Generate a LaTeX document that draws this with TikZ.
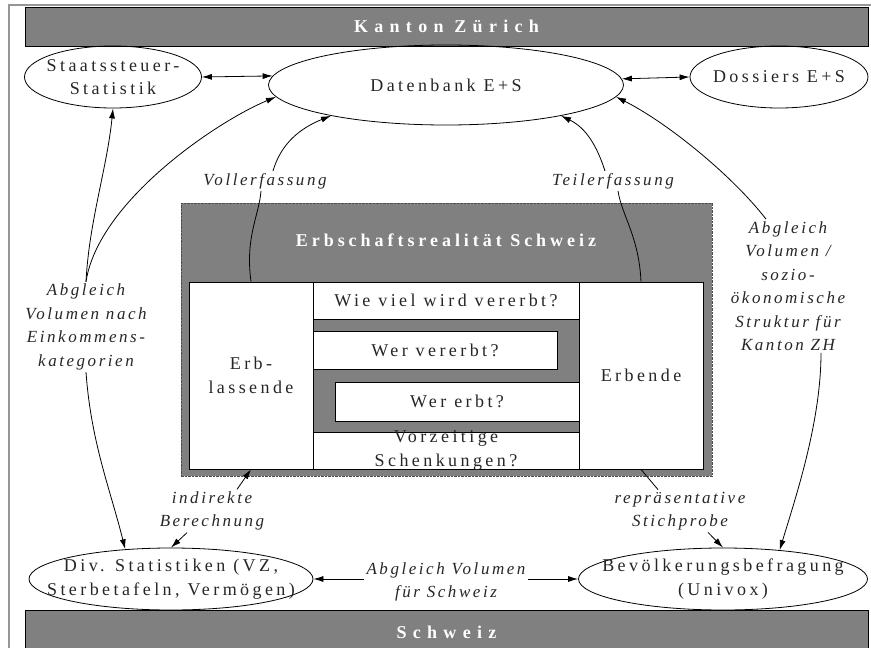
\documentclass[tikz,border=0pt]{standalone}
\usepackage{fontspec}
\setmainfont{Liberation Serif}
\newfontfamily\plainspaced[LetterSpace=19]{Liberation Serif}
\newfontfamily\labelspaced[LetterSpace=15]{Liberation Serif}
\newfontfamily\titlespaced[LetterSpace=22]{Liberation Serif}
\newfontfamily\barspaced[LetterSpace=35]{Liberation Serif}
\usetikzlibrary{shapes,arrows.meta,positioning,calc}

\definecolor{boxgray}{RGB}{128,128,128}
\definecolor{framegray}{RGB}{150,150,150}

\begin{document}
\begin{tikzpicture}[x=1pt, y=-1pt,
    txt/.style={font=\plainspaced\fontsize{18}{23.5}\selectfont, text=black!85, align=center},
    oval/.style={ellipse, draw, line width=0.8pt, inner sep=0pt},
    ovaltext/.style={txt, inner sep=0pt},
    bar/.style={rectangle, draw, fill=boxgray, line width=0.6pt, text=white, font=\barspaced\bfseries\fontsize{18}{22}\selectfont},
    cell/.style={rectangle, draw, fill=white, line width=0.7pt, inner sep=0pt, txt},
    elabel/.style={font=\labelspaced\itshape\fontsize{17}{23.5}\selectfont, text=black!85, align=center, inner sep=2pt},
    link/.style={line width=0.8pt},
    arr/.style={link, -{Latex[length=10pt,width=6pt]}},
    both/.style={link, {Latex[length=10pt,width=6pt]}-{Latex[length=10pt,width=6pt]}}]
    \useasboundingbox (0,0) rectangle (871,648);
    \draw[framegray, line width=1.5pt] (9,660) -- (9,5) -- (880,5);

    % bars
    \node[bar, minimum width=843pt, minimum height=39pt] (kanton) at (446.5,26.5) {Kanton Zürich};
    \node[bar, minimum width=843pt, minimum height=44pt] (schweiz) at (446.5,632) {Schweiz};

    % Erbschaftsrealitaet
    \node[rectangle, draw=black!70, dash pattern=on 2.5pt off 1pt, fill=boxgray, line width=0.8pt, minimum width=531pt, minimum height=273pt] (realitaet) at (446.5,339.5) {};
    \node[text=white, font=\titlespaced\bfseries\fontsize{18}{22}\selectfont] (realtitel) at (446,240) {Erbschaftsrealität Schweiz};
    \node[cell, minimum width=124pt, minimum height=187pt] (erblassende) at (251,375.5) {Erb-\\lassende};
    \node[cell, minimum width=124pt, minimum height=187pt] (erbende) at (641,375.5) {Erbende};
    \node[cell, minimum width=266pt, minimum height=37pt] (wieviel) at (446,300.5) {Wie viel wird vererbt?};
    \node[cell, minimum width=244pt, minimum height=38pt] (wervererbt) at (435,350) {Wer vererbt?};
    \node[cell, minimum width=244pt, minimum height=39pt] (wererbt) at (457,401.5) {Wer erbt?};
    \node[cell, minimum width=266pt, minimum height=37pt, label={[txt]center:Vorzeitige\\Schenkungen?}] (vorzeitig) at (446,450.5) {};

    % ellipses
    \node[oval, minimum width=177pt, minimum height=62pt, label={[ovaltext]center:Staatssteuer-\\Statistik}] (staatsstat) at (113,77) {};
    \node[oval, minimum width=355pt, minimum height=80pt, label={[ovaltext]center:Datenbank E+S}] (datenbank) at (446,85) {};
    \node[oval, minimum width=178pt, minimum height=62pt, label={[ovaltext]center:Dossiers E+S}] (dossiers) at (779,77) {};
    \node[oval, minimum width=284pt, minimum height=62pt, label={[ovaltext]center:Div. Statistiken (VZ,\\Sterbetafeln, Vermögen)}] (divstat) at (171,579) {};
    \node[oval, minimum width=289pt, minimum height=62pt, label={[ovaltext]center:Bevölkerungsbefragung\\(Univox)}] (befragung) at (723,579) {};

    % edge labels
    \node[elabel] (vollerf) at (265,181) {Vollerfassung};
    \node[elabel] (teilerf) at (613,181) {Teilerfassung};
    \node[elabel] (abgleichek) at (86,327) {Abgleich\\Volumen nach\\Einkommens-\\kategorien};
    \node[elabel] (abgleichzh) at (788,286) {Abgleich\\Volumen /\\sozio-\\ökonomische\\Struktur für\\Kanton ZH};
    \node[elabel] (indirekt) at (212,511) {indirekte\\Berechnung};
    \node[elabel] (stichprobe) at (680,511) {repräsentative\\Stichprobe};
    \node[elabel] (abgleichch) at (446,582) {Abgleich Volumen\\für Schweiz};

    % connectors
    \draw[both] (staatsstat.east) -- (datenbank.177.4);
    \draw[both] (datenbank.2.6) -- (dossiers.west);
    \draw[link] (erblassende.north) .. controls +(-6,-45) and +(-2,25) .. ([xshift=-4pt]vollerf.south);
    \draw[arr] ([xshift=8pt]vollerf.north) .. controls +(8,-28) and +(-30,12) .. (datenbank.195);
    \draw[link] (erbende.north) .. controls +(-2,-45) and +(4,25) .. ([xshift=5pt]teilerf.south);
    \draw[arr] ([xshift=-8pt]teilerf.north) .. controls +(-8,-25) and +(25,12) .. (datenbank.-15);
    \draw[arr] ([xshift=-22pt]abgleichzh.north) .. controls +(-35,-45) and +(50,25) .. (datenbank.-4);
    \draw[arr] ([xshift=33pt]abgleichzh.south) .. controls +(0,70) and +(15,-50) .. (befragung.27);
    \draw[arr] (abgleichek.north) .. controls +(3,-60) and +(-6,60) .. (staatsstat.south);
    \draw[arr] (abgleichek.north) .. controls +(12,-80) and +(-60,25) .. (datenbank.184);
    \draw[arr] (abgleichek.south) .. controls +(5,70) and +(-15,-60) .. (divstat.147);
    \draw[arr] ([xshift=25pt]indirekt.north) -- (erblassende.south);
    \draw[arr] ([xshift=-25pt]indirekt.south) -- (divstat.north);
    \draw[link] (erbende.south) -- ([xshift=-22pt]stichprobe.north);
    \draw[arr] ([xshift=28pt]stichprobe.south) -- (befragung.north);
    \draw[arr] (abgleichch.west |- divstat.east) -- (divstat.east);
    \draw[arr] (abgleichch.east |- befragung.west) -- (befragung.west);
\end{tikzpicture}
\end{document}
